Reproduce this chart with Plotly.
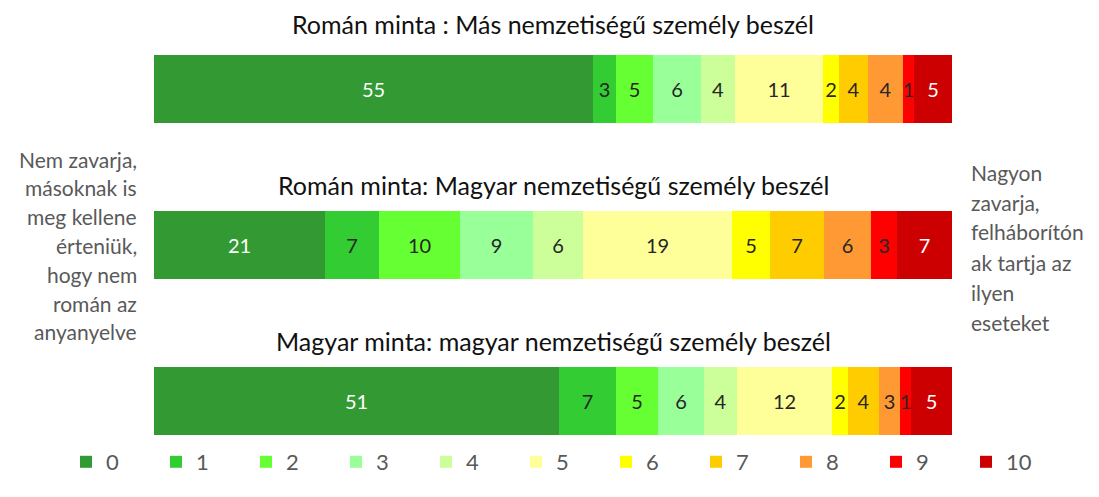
import plotly.graph_objects as go

# ---- data ----
bar_titles = [
    "Román minta : Más nemzetiségű személy beszél",
    "Román minta: Magyar nemzetiségű személy beszél",
    "Magyar minta: magyar nemzetiségű személy beszél",
]
scores = ["0", "1", "2", "3", "4", "5", "6", "7", "8", "9", "10"]
# share (%) of each score for [bar1, bar2, bar3]
values = {
    "0": [55.0, 21.4, 50.8],
    "1": [2.9, 6.8, 7.1],
    "2": [4.6, 10.2, 5.2],
    "3": [6.1, 9.1, 5.8],
    "4": [4.2, 6.2, 4.2],
    "5": [11.0, 18.7, 11.8],
    "6": [2.0, 4.8, 2.1],
    "7": [3.7, 6.8, 3.9],
    "8": [4.4, 5.8, 2.6],
    "9": [1.3, 3.3, 1.4],
    "10": [4.8, 6.9, 5.1],
}
colors = ["#339933", "#33CC33", "#66FF33", "#99FF99", "#CCFF99", "#FFFF99",
          "#FFFF00", "#FFCC00", "#FF9933", "#FF0000", "#CC0000"]
label_colors = ["#FFFFFF"] + ["#262626"] * 9 + ["#FFFFFF"]

left_lines = ["Nem zavarja,", "másoknak is", "meg kellene", "érteniük,",
              "hogy nem", "román az", "anyanyelve"]
right_lines = ["Nagyon", "zavarja,", "felháborítón", "ak tartja az",
               "ilyen", "eseteket"]

FONT = "Lato, 'Open Sans', sans-serif"
W, H = 1099, 497


def py(p):
    return (H - p) / H


def px(p):
    return p / W


fig = go.Figure()
for i, s in enumerate(scores):
    fig.add_trace(go.Bar(
        name=s,
        y=bar_titles,
        x=values[s],
        orientation="h",
        width=0.44,
        marker=dict(color=colors[i], line=dict(width=0)),
        texttemplate="%{x:.0f}",
        textposition="inside",
        insidetextanchor="middle",
        textangle=0,
        textfont=dict(family=FONT, size=20, color=label_colors[i]),
        hoverinfo="x+name",
    ))

annotations = []
title_y = [24, 185, 341]
for t, ty in zip(bar_titles, title_y):
    annotations.append(dict(
        text=t, xref="paper", yref="paper", x=px(553), y=py(ty),
        xanchor="center", yanchor="middle", showarrow=False,
        font=dict(family=FONT, size=25, color="#111111"),
    ))
for k, line in enumerate(left_lines):
    annotations.append(dict(
        text=line, xref="paper", yref="paper", x=px(139), y=py(159 + 28.8 * k),
        xanchor="right", yanchor="middle", showarrow=False,
        font=dict(family=FONT, size=21, color="#595959"),
    ))
for k, line in enumerate(right_lines):
    annotations.append(dict(
        text=line, xref="paper", yref="paper", x=px(969), y=py(172 + 30 * k),
        xanchor="left", yanchor="middle", showarrow=False,
        font=dict(family=FONT, size=21, color="#595959"),
    ))

fig.update_layout(
    width=W, height=H,
    margin=dict(l=0, r=0, t=0, b=0, pad=0, autoexpand=False),
    barmode="stack",
    bargap=0,
    plot_bgcolor="white", paper_bgcolor="white",
    xaxis=dict(range=[0, 100], domain=[px(154), px(952)], visible=False, fixedrange=True),
    yaxis=dict(type="category", categoryorder="array", categoryarray=bar_titles,
               range=[2.5, -0.5], domain=[py(479), py(11)], visible=False, fixedrange=True),
    uniformtext=dict(minsize=20, mode="show"),
    showlegend=True,
    legend=dict(orientation="h", x=px(66), y=py(462), xanchor="left", yanchor="middle",
                entrywidth=45, entrywidthmode="pixels", traceorder="normal",
                bgcolor="rgba(0,0,0,0)",
                font=dict(family=FONT, size=22, color="#595959"),
                itemclick=False, itemdoubleclick=False),
    annotations=annotations,
)

fig.write_html("out.html", config={"displayModeBar": False},
               post_script="document.body.style.margin='0';")
